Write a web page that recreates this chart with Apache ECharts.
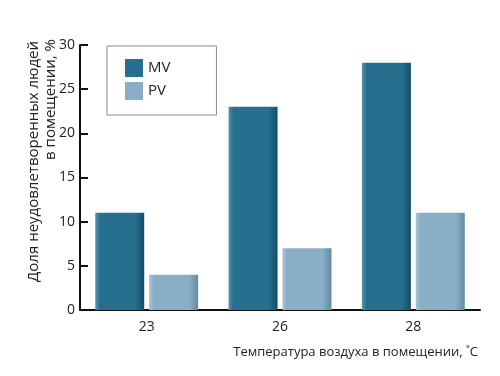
<!DOCTYPE html>
<html>
<head>
<meta charset="utf-8">
<script src="https://cdn.jsdelivr.net/npm/echarts@6/dist/echarts.min.js"></script>
<style>html,body{margin:0;padding:0;background:#fff}#c{width:500px;height:376px}</style>
</head>
<body>
<div id="c"></div>
<script>
var categories = ['23', '26', '28'];
var mvValues = [11, 23, 28];
var pvValues = [4, 7, 11];
var yTicks = { min: 0, max: 30, interval: 5 };
var yName = ['Доля неудовлетворенных людей', 'в помещении, %'];
var xName = 'Температура воздуха в помещении, \u02DAC';

var FONT = 'Open Sans';
function grad(light, main, dark) {
  return new echarts.graphic.LinearGradient(0, 0, 1, 0, [
    { offset: 0, color: light },
    { offset: 0.1, color: main },
    { offset: 0.82, color: main },
    { offset: 1, color: dark }
  ]);
}
var chart = echarts.init(document.getElementById('c'), null, { renderer: 'canvas' });
chart.setOption({
  animation: false,
  backgroundColor: '#fff',
  textStyle: { fontFamily: FONT },
  grid: { left: 80, right: 20, top: 45, bottom: 66, containLabel: false },
  legend: {
    orient: 'vertical',
    left: 107, top: 46,
    padding: [13, 46, 15, 18],
    icon: 'rect',
    itemWidth: 18, itemHeight: 18, itemGap: 5,
    borderColor: '#8a8a8a', borderWidth: 1,
    textStyle: { fontFamily: FONT, fontSize: 15, color: '#222' },
    data: [
      { name: 'MV', itemStyle: { color: '#266f8e' } },
      { name: 'PV', itemStyle: { color: '#8aaec6' } }
    ]
  },
  xAxis: {
    type: 'category', data: categories,
    axisLine: { lineStyle: { color: '#111', width: 2 } },
    axisTick: { inside: true, length: 8, lineStyle: { color: '#111', width: 2 } },
    axisLabel: { fontFamily: FONT, fontSize: 14, color: '#222', margin: 10 }
  },
  yAxis: {
    type: 'value', min: yTicks.min, max: yTicks.max, interval: yTicks.interval,
    splitLine: { show: false },
    axisLine: { show: true, lineStyle: { color: '#111', width: 2 } },
    axisTick: { show: true, inside: true, length: 8, lineStyle: { color: '#111', width: 2 } },
    axisLabel: { fontFamily: FONT, fontSize: 14, color: '#222', margin: 5 }
  },
  series: [
    { name: 'MV', type: 'bar', data: mvValues, barWidth: 49, barGap: '10%',
      itemStyle: { color: grad('#5a93ad', '#266f8e', '#134c67') } },
    { name: 'PV', type: 'bar', data: pvValues, barWidth: 49,
      itemStyle: { color: grad('#a9c3d4', '#8aaec6', '#5f8aa6') } }
  ],
  graphic: [
    { type: 'text', x: 34, y: 41, rotation: Math.PI / 2,
      style: { text: yName[0], font: '15px "Open Sans"', fill: '#222', textAlign: 'right', textVerticalAlign: 'middle' } },
    { type: 'text', x: 51, y: 39, rotation: Math.PI / 2,
      style: { text: yName[1], font: '15px "Open Sans"', fill: '#222', textAlign: 'right', textVerticalAlign: 'middle' } },
    { type: 'text', x: 478, y: 352,
      style: { text: xName, font: '13px "Open Sans"', fill: '#222', textAlign: 'right', textVerticalAlign: 'middle' } }
  ]
});
</script>
</body>
</html>
